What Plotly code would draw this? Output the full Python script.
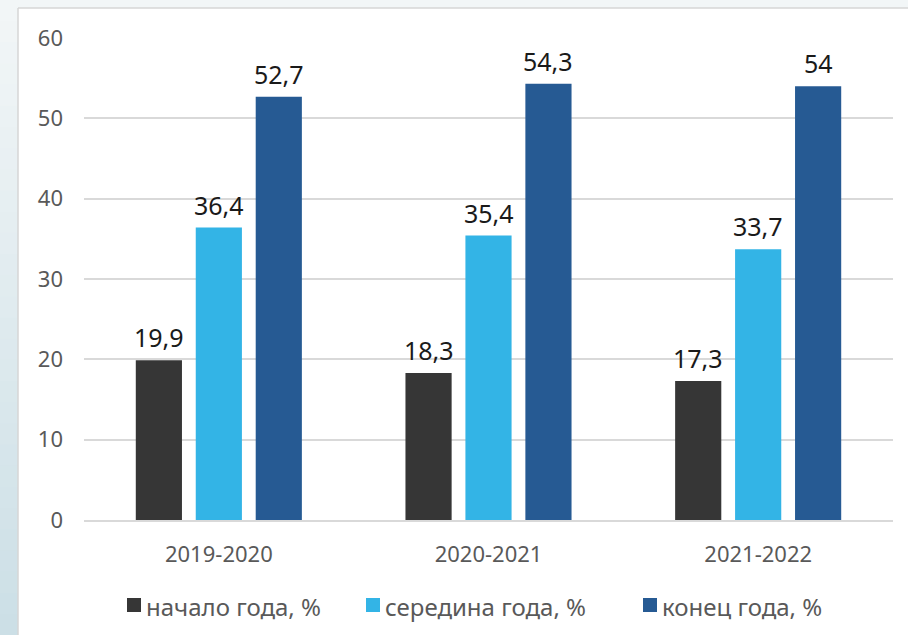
import plotly.graph_objects as go

categories = ["2019-2020", "2020-2021", "2021-2022"]
series_names = ["начало года, %", "середина года, %", "конец года, %"]
start_vals = [19.9, 18.3, 17.3]
mid_vals = [36.4, 35.4, 33.7]
end_vals = [52.7, 54.3, 54.0]
colors = ["#363636", "#33b4e6", "#265a93"]
all_vals = [start_vals, mid_vals, end_vals]

W, H = 908, 635
L, R, T, B = 84, 15, 38, 115
pw, ph = W - L - R, H - T - B
FONT = "'Noto Sans', 'Open Sans', sans-serif"

BARGAP = 0.333
GROUPGAP = 0.23


def px_x(x):
    return (x - L) / pw


def px_y(y):
    return 1 - (y - T) / ph


def fmt(v):
    return ("%g" % v).replace(".", ",")


fig = go.Figure()
for name, vals, col in zip(series_names, all_vals, colors):
    fig.add_trace(go.Bar(
        x=categories, y=vals, name=name,
        marker=dict(color=col, line=dict(width=0)),
        showlegend=False,
    ))

# data labels above bars
slot = pw / len(categories) * (1 - BARGAP) / len(series_names)
annotations = []
for si, vals in enumerate(all_vals):
    off = (si - (len(series_names) - 1) / 2) * slot
    for c, v in zip(categories, vals):
        annotations.append(dict(
            x=c, y=v, xref="x", yref="y", text=fmt(v), showarrow=False,
            xshift=off, yshift=4, yanchor="bottom", xanchor="center",
            font=dict(family=FONT, size=25, color="#1a1a1a"),
        ))

shapes = []
# background gradient outside the white panel
n = 30
top_c = (242, 246, 247)
bot_c = (204, 223, 230)
for i in range(n):
    t = i / (n - 1)
    c = tuple(round(top_c[k] + (bot_c[k] - top_c[k]) * t) for k in range(3))
    y0 = i * H / n
    y1 = (i + 1) * H / n + 1
    shapes.append(dict(type="rect", xref="paper", yref="paper", layer="below",
                       x0=px_x(0), x1=px_x(18), y0=px_y(y1), y1=px_y(y0),
                       fillcolor="rgb(%d,%d,%d)" % c, line=dict(width=0)))
shapes.append(dict(type="rect", xref="paper", yref="paper", layer="below",
                   x0=px_x(0), x1=px_x(W), y0=px_y(8), y1=px_y(0),
                   fillcolor="rgb(242,246,247)", line=dict(width=0)))
shapes.append(dict(type="line", xref="paper", yref="paper", layer="below",
                   x0=px_x(18), x1=px_x(18), y0=px_y(H), y1=px_y(8),
                   line=dict(color="#d6d6d6", width=1.5)))
shapes.append(dict(type="line", xref="paper", yref="paper", layer="below",
                   x0=px_x(18), x1=px_x(W), y0=px_y(8), y1=px_y(8),
                   line=dict(color="#d6d6d6", width=1.5)))

# manual legend (square + label) built from series names/colors
legend_text_x = [146, 385, 662]
legend_y = 605
for name, col, tx in zip(series_names, colors, legend_text_x):
    shapes.append(dict(type="rect", xref="paper", yref="paper",
                       x0=px_x(tx - 19), x1=px_x(tx - 5),
                       y0=px_y(legend_y + 7), y1=px_y(legend_y - 7),
                       fillcolor=col, line=dict(width=0)))
    annotations.append(dict(
        x=px_x(tx - 2), y=px_y(legend_y + 1), xref="paper", yref="paper",
        text=name, showarrow=False, xanchor="left", yanchor="middle",
        font=dict(family=FONT, size=24, color="#595959"),
    ))

fig.update_layout(
    width=W, height=H,
    margin=dict(l=L, r=R, t=T, b=B, autoexpand=False),
    paper_bgcolor="white", plot_bgcolor="white",
    font=dict(family=FONT, color="#595959"),
    barmode="group", bargap=BARGAP, bargroupgap=GROUPGAP,
    shapes=shapes, annotations=annotations,
    showlegend=False,
    xaxis=dict(showgrid=False, showline=True, linecolor="#d9d9d9", linewidth=1.5,
               ticks="", tickfont=dict(size=22, color="#595959"), ticklabelstandoff=14),
    yaxis=dict(range=[0, 60], dtick=10, showgrid=True, gridcolor="#d9d9d9", gridwidth=1.5,
               zeroline=False, showline=False, ticks="",
               tickfont=dict(size=22, color="#595959"), ticklabelstandoff=20),
)

fig.write_html("out.html", config={"displayModeBar": False},
               post_script="document.body.style.margin='0';document.body.style.overflow='hidden';")
